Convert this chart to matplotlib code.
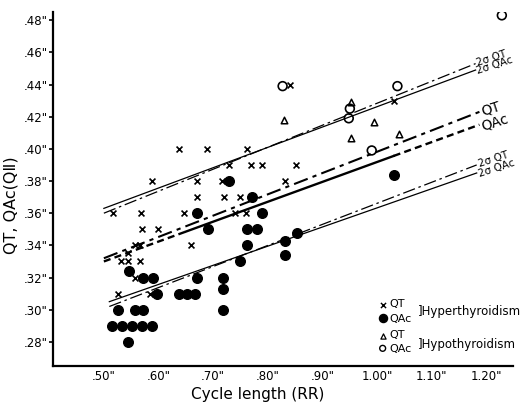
import matplotlib
matplotlib.use("Agg")
import matplotlib.pyplot as plt
import numpy as np

# ---------------- data ----------------
# Hyperthyroidism QT (x markers)
hyper_qt_rr = [0.637, 0.689, 0.761, 0.729, 0.770, 0.790, 0.851, 0.588, 0.670, 0.717,
               0.831, 0.670, 0.719, 0.749, 0.772, 0.516, 0.568, 0.646, 0.739, 0.760,
               0.569, 0.599, 0.659, 0.557, 0.567, 0.544, 0.544, 0.531, 0.566, 0.557,
               0.526, 0.584, 0.840, 1.030]
hyper_qt_val = [0.40, 0.40, 0.40, 0.39, 0.39, 0.39, 0.39, 0.38, 0.38, 0.38,
                0.38, 0.37, 0.37, 0.37, 0.37, 0.36, 0.36, 0.36, 0.36, 0.36,
                0.35, 0.35, 0.34, 0.34, 0.34, 0.335, 0.33, 0.33, 0.33, 0.32,
                0.31, 0.31, 0.44, 0.43]

# Hyperthyroidism QAc (filled circles)
hyper_qac_rr = [0.515, 0.533, 0.551, 0.569, 0.588, 0.544, 0.526, 0.557, 0.571, 0.546,
                0.571, 0.590, 0.597, 0.637, 0.652, 0.666, 0.670, 0.670, 0.690, 0.718,
                0.718, 0.718, 0.729, 0.749, 0.761, 0.761, 0.780, 0.771, 0.789, 0.831,
                0.831, 0.853, 1.030]
hyper_qac_val = [0.29, 0.29, 0.29, 0.29, 0.29, 0.28, 0.30, 0.30, 0.30, 0.324,
                 0.32, 0.32, 0.31, 0.31, 0.31, 0.31, 0.32, 0.36, 0.35, 0.32,
                 0.313, 0.30, 0.38, 0.33, 0.34, 0.35, 0.35, 0.37, 0.36, 0.343,
                 0.334, 0.348, 0.384]

# Hypothyroidism QT (open triangles)
hypo_qt_rr = [0.829, 0.952, 0.994, 0.952, 1.039]
hypo_qt_val = [0.418, 0.429, 0.417, 0.407, 0.409]

# Hypothyroidism QAc (open circles)
hypo_qac_rr = [0.827, 1.037, 0.950, 0.948, 0.990, 1.228]
hypo_qac_val = [0.439, 0.439, 0.425, 0.419, 0.399, 0.483]

# Regression lines and 2-sigma limits (endpoints)
reg_qt_rr, reg_qt_val = [0.50, 1.187], [0.332, 0.423]
reg_qac_rr, reg_qac_val = [0.50, 1.187], [0.330, 0.415]
reg_qac_solid_rr = [0.65, 1.03]          # part of QAc line drawn solid
up_qt_rr, up_qt_val = [0.50, 1.18], [0.360, 0.453]
up_qac_rr, up_qac_val = [0.50, 1.18], [0.363, 0.449]
lo_qt_rr, lo_qt_val = [0.51, 1.182], [0.302, 0.390]
lo_qac_rr, lo_qac_val = [0.51, 1.182], [0.305, 0.385]

xticks = [0.50, 0.60, 0.70, 0.80, 0.90, 1.00, 1.10, 1.20]
xticklabels = ['.50"', '.60"', '.70"', '.80"', '.90"', '1.00"', '1.10"', '1.20"']
yticks = [0.28, 0.30, 0.32, 0.34, 0.36, 0.38, 0.40, 0.42, 0.44, 0.46, 0.48]
yticklabels = ['.28"', '.30"', '.32"', '.34"', '.36"', '.38"', '.40"', '.42"', '.44"', '.46"', '.48"']

# ---------------- plot ----------------
plt.rcParams['font.family'] = ['DejaVu Sans']
fig = plt.figure(figsize=(5.27, 4.04), dpi=100)
ax = fig.add_axes([0.1006, 0.094, 0.8724, 0.876])
ax.set_xlim(0.407, 1.248)
ax.set_ylim(0.265, 0.485)

for s in ['top', 'right']:
    ax.spines[s].set_visible(False)
ax.spines['left'].set_linewidth(1.6)
ax.spines['bottom'].set_linewidth(1.6)

# lines
def line_at(rr, val, x):
    return val[0] + (val[1] - val[0]) * (x - rr[0]) / (rr[1] - rr[0])

ax.plot(up_qt_rr, up_qt_val, color='black', lw=0.9, ls=(0, (10, 3, 2, 3)))
ax.plot(up_qac_rr, up_qac_val, color='black', lw=0.9, ls='-')
ax.plot(lo_qt_rr, lo_qt_val, color='black', lw=0.9, ls=(0, (10, 3, 2, 3)))
ax.plot(lo_qac_rr, lo_qac_val, color='black', lw=0.9, ls='-')
ax.plot(reg_qt_rr, reg_qt_val, color='black', lw=1.5, ls=(0, (7, 2.5, 2, 2.5)))
# QAc regression: dashed ends, solid middle
a, b = reg_qac_solid_rr
ax.plot([reg_qac_rr[0], a], [reg_qac_val[0], line_at(reg_qac_rr, reg_qac_val, a)],
        color='black', lw=1.7, ls=(0, (3, 1.8)))
ax.plot([a, b], [line_at(reg_qac_rr, reg_qac_val, a), line_at(reg_qac_rr, reg_qac_val, b)],
        color='black', lw=1.7, ls='-')
ax.plot([b, reg_qac_rr[1]], [line_at(reg_qac_rr, reg_qac_val, b), reg_qac_val[1]],
        color='black', lw=1.7, ls=(0, (3, 1.8)))

# points
ax.scatter(hyper_qac_rr, hyper_qac_val, s=48, c='black', marker='o', zorder=3)
ax.scatter(hyper_qt_rr, hyper_qt_val, s=18, c='black', marker='x', linewidths=1.2, zorder=4)
ax.scatter(hypo_qt_rr, hypo_qt_val, s=22, facecolors='white', edgecolors='black',
           marker='^', linewidths=1.1, zorder=4)
ax.scatter(hypo_qac_rr, hypo_qac_val, s=40, facecolors='none', edgecolors='black',
           marker='o', linewidths=1.2, zorder=4)

# line labels
def angle_of(rr, val):
    p1 = ax.transData.transform((rr[0], val[0]))
    p2 = ax.transData.transform((rr[1], val[1]))
    return np.degrees(np.arctan2(p2[1] - p1[1], p2[0] - p1[0]))

fig.canvas.draw()
ang = angle_of(up_qt_rr, up_qt_val) - 4
lab_kw = dict(rotation=ang, rotation_mode='anchor', ha='left', va='center', clip_on=False)
ax.text(up_qt_rr[1] + 0.003, up_qt_val[1] + 0.0005, '2σ QT', fontsize=7.5, **lab_kw)
ax.text(up_qac_rr[1] + 0.003, up_qac_val[1] - 0.001, '2σ QAc', fontsize=7.5, **lab_kw)
ax.text(reg_qt_rr[1] + 0.003, reg_qt_val[1], 'QT', fontsize=10, **lab_kw)
ax.text(reg_qac_rr[1] + 0.003, reg_qac_val[1] - 0.001, 'QAc', fontsize=10, **lab_kw)
ax.text(lo_qt_rr[1] + 0.003, lo_qt_val[1] + 0.0005, '2σ QT', fontsize=7.5, **lab_kw)
ax.text(lo_qac_rr[1] + 0.003, lo_qac_val[1] - 0.001, '2σ QAc', fontsize=7.5, **lab_kw)

# ticks
ax.set_xticks(xticks)
ax.set_xticklabels(xticklabels, fontsize=8.5)
ax.set_yticks(yticks)
ax.set_yticklabels(yticklabels, fontsize=8.5)
ax.tick_params(axis='x', length=0, pad=3)
ax.tick_params(axis='y', direction='out', length=3, width=1.2, pad=1)

ax.set_xlabel('Cycle length (RR)', fontsize=11)
ax.xaxis.set_label_coords(0.446, -0.058)
ax.set_ylabel('QT, QAc(QⅡ)', fontsize=11.5)
ax.yaxis.set_label_coords(-0.075, 0.455)

# legend (manual)
T = ax.transAxes
ax.scatter([0.717], [0.172], s=14, marker='x', c='black', linewidths=1.0, transform=T, clip_on=False)
ax.scatter([0.717], [0.137], s=34, marker='o', c='black', transform=T, clip_on=False)
ax.scatter([0.717], [0.085], s=14, marker='^', facecolors='white', edgecolors='black',
           linewidths=0.9, transform=T, clip_on=False)
ax.scatter([0.717], [0.050], s=18, marker='o', facecolors='none', edgecolors='black',
           linewidths=1.0, transform=T, clip_on=False)
ax.text(0.731, 0.175, 'QT', fontsize=8, transform=T, va='center', ha='left')
ax.text(0.731, 0.134, 'QAc', fontsize=8, transform=T, va='center', ha='left')
ax.text(0.794, 0.153, ']Hyperthyroidism', fontsize=8.5, transform=T, va='center', ha='left', clip_on=False)
ax.text(0.731, 0.088, 'QT', fontsize=8, transform=T, va='center', ha='left')
ax.text(0.731, 0.047, 'QAc', fontsize=8, transform=T, va='center', ha='left')
ax.text(0.794, 0.060, ']Hypothyroidism', fontsize=8.5, transform=T, va='center', ha='left', clip_on=False)

fig.savefig('out.png', dpi=100)
